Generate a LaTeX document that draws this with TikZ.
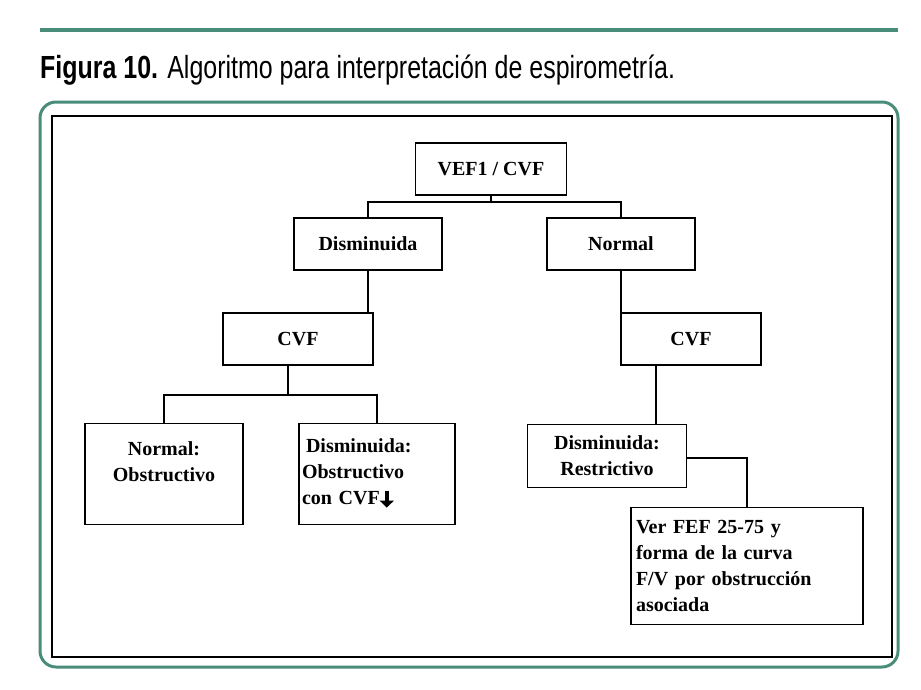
\documentclass[tikz,border=0pt]{standalone}
\usepackage{fontspec}
\setmainfont{Liberation Serif}
\newfontfamily\capfont[FakeStretch=0.78]{Liberation Sans}
\usetikzlibrary{arrows.meta}
\definecolor{teal}{RGB}{74,140,122}
\tikzset{box/.style={draw,line width=1.3pt,font=\fontsize{20}{26}\selectfont\bfseries,inner sep=0pt}}
\newcommand{\downarr}{\tikz[baseline=-2pt]\draw[line width=4pt,-{Triangle[length=7pt,width=14pt]}] (0,12pt) -- (0,-5pt);}
\begin{document}
\begin{tikzpicture}[x=1pt,y=-1pt]
                \useasboundingbox (0,0) rectangle (921,689);
                \draw[teal,line width=4pt] (40,30) -- (898,30);
                \node (caption) at (40,70) [anchor=west,inner sep=0pt,font=\capfont\fontsize{32}{36}\selectfont] {\textbf{Figura 10.} Algoritmo para interpretación de espirometría.};
                \draw[teal,line width=3pt,rounded corners=16pt] (40,102) rectangle (898,667);
                \draw[line width=1.5pt] (52,116) rectangle (892,657);

                \node (vef) at (491,169) [box,minimum width=151,minimum height=52] {VEF1 / CVF};
                \node (dism) at (368,244) [box,minimum width=148,minimum height=52] {Disminuida};
                \node (norm) at (621,244) [box,minimum width=148,minimum height=52] {Normal};
                \node (cvfl) at (298,339) [box,minimum width=150,minimum height=52] {CVF};
                \node (cvfr) at (691,339) [box,minimum width=140,minimum height=52] {CVF};
                \node (obst) at (164,423) [box,minimum width=158,minimum height=101,anchor=north,align=center,inner ysep=8pt] {Normal:\\Obstructivo\\\mbox{}};
                \node (obcvf) at (377,423) [box,minimum width=156,minimum height=101,anchor=north,text width=150,align=left,inner ysep=8pt] {\hspace*{4pt}Disminuida:\\Obstructivo\\con CVF\downarr};
                \node (restr) at (607,456) [box,minimum width=159,minimum height=63,align=center] {Disminuida:\\Restrictivo};
                \node (fef) at (747,566) [box,minimum width=232,minimum height=117,text width=222,align=left] {Ver FEF 25-75 y\\forma de la curva\\F/V por obstrucción\\asociada};

                \coordinate (j1) at (491,202);
                \coordinate (j2) at (288,395);
                \draw[line width=1.3pt] (vef.south) -- (j1);
                \draw[line width=1.3pt] (dism.north) |- (j1) -| (norm.north);
                \draw[line width=1.3pt] (dism.south) -- (dism.south |- cvfl.north);
                \draw[line width=1.3pt] (norm.south) -- (norm.south |- cvfr.north);
                \draw[line width=1.3pt] (cvfl.south -| j2) -- (j2);
                \draw[line width=1.3pt] (obst.north) |- (j2) -| (obcvf.north);
                \draw[line width=1.3pt] (cvfr.south -| 656,0) -- (restr.north -| 656,0);
                \draw[line width=1.3pt] (restr.east) ++(0,2) -| (fef.north);
\end{tikzpicture}
\end{document}
